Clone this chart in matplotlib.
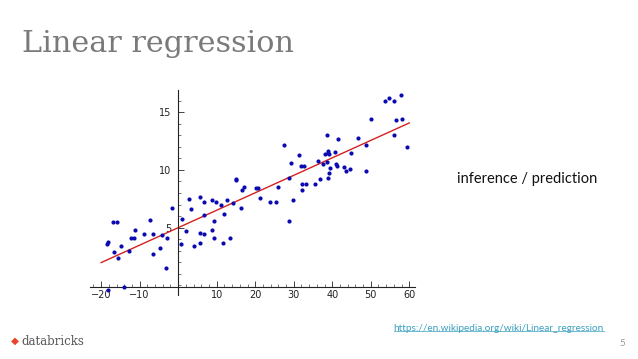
import matplotlib.pyplot as plt
import numpy as np

# scatter data
x_pts = [-18.6, -18.2, -17.0, -15.8, -16.7, -15.6, -14.9, -14.0, -18.2, -12.7,
         -12.2, -11.4, -11.1, -8.8, -7.3, -6.5, -6.5, -4.6, -4.3, -3.2,
         -2.8, -1.7, 0.7, 1.1, 2.1, 2.9, 3.3, 4.1, 5.7, 5.6,
         5.6, 6.7, 6.7, 6.7, 8.7, 8.9, 9.3, 9.4, 9.8, 11.2,
         11.7, 12.0, 12.7, 13.5, 14.3, 14.9, 15.1, 16.3, 16.6, 17.0,
         20.1, 20.8, 21.2, 23.9, 25.4, 26.0, 27.5, 28.8, 28.8, 29.3,
         29.8, 31.3, 31.8, 32.6, 32.1, 32.2, 33.2, 35.6, 36.2, 36.9,
         37.6, 38.2, 38.7, 38.8, 38.8, 39.0, 39.2, 39.2, 38.7, 39.4,
         40.8, 41.1, 41.3, 41.6, 43.0, 43.5, 44.5, 44.8, 46.6, 48.7,
         48.8, 50.0, 53.8, 54.6, 56.0, 56.0, 56.5, 57.9, 58.1, 59.4]
y_pts = [3.56, 3.79, 5.46, 5.46, 2.93, 2.41, 3.39, -0.1, -0.35, 2.99,
         4.08, 4.14, 4.77, 4.48, 5.69, 4.48, 2.76, 3.28, 4.34, 1.55,
         4.11, 6.67, 3.56, 5.72, 4.74, 7.44, 6.58, 3.39, 7.67, 4.54,
         3.65, 7.18, 6.06, 4.43, 4.83, 7.41, 5.57, 4.14, 7.24, 6.98,
         3.68, 6.15, 7.41, 4.14, 7.16, 9.22, 9.11, 6.67, 8.22, 8.56,
         8.39, 8.39, 7.59, 7.24, 7.21, 8.53, 12.13, 9.31, 5.57, 10.60,
         7.41, 11.26, 10.34, 10.37, 8.74, 8.25, 8.76, 8.82, 10.80, 9.20,
         10.55, 11.41, 13.05, 9.34, 11.49, 11.61, 11.38, 9.74, 10.66, 10.14,
         11.55, 10.52, 10.37, 12.64, 10.29, 9.94, 10.09, 11.49, 12.76, 12.18,
         9.91, 14.43, 16.0, 16.26, 16.0, 13.05, 14.28, 16.44, 14.43, 11.95]

# fitted line y = a + b*x
fit_intercept = 5.0
fit_slope = 0.151
fit_x = [-20, 60]

x_ticks = [-20, -10, 10, 20, 30, 40, 50, 60]
y_ticks = [5, 10, 15]

fig = plt.figure(figsize=(6.38, 3.59), dpi=100)
ax = fig.add_axes([0.141, 0.197 - 0.018, 0.509, 0.570])

ax.scatter(x_pts, y_pts, s=9, color="#0a0ab0", zorder=3, clip_on=False, linewidths=0)
fx = np.array(fit_x)
ax.plot(fx, fit_intercept + fit_slope * fx, color="#d42020", lw=1.0, zorder=2)

ax.set_xlim(-22.9, 61.4)
ax.set_ylim(-0.8, 16.9)
ax.spines["top"].set_visible(False)
ax.spines["right"].set_visible(False)
ax.spines["left"].set_position(("data", 0))
ax.spines["bottom"].set_position(("data", -0.17))
for s in ["left", "bottom"]:
    ax.spines[s].set_linewidth(0.8)
    ax.spines[s].set_color("#222222")

ax.set_xticks(x_ticks)
ax.set_yticks(y_ticks)
ax.set_xticks(np.arange(-22, 62, 2), minor=True)
ax.set_yticks(np.arange(0, 17, 1), minor=True)
ax.tick_params(which="major", direction="in", length=4, width=0.6,
               labelsize=7, colors="#222222", pad=2)
ax.tick_params(which="minor", direction="in", length=2, width=0.5, colors="#444444")
ax.tick_params(axis="y", pad=5)
ax.patch.set_alpha(0)

fig.text(0.034, 0.855, "Linear regression", fontsize=21.8, family="DejaVu Serif",
         color="#7a7a7a", va="baseline", ha="left")
fig.text(0.716, 0.501, "inference / prediction", fontsize=10.5, family="Lato",
         color="#111111", va="center", ha="left")
link = fig.text(0.617, 0.086, "https://en.wikipedia.org/wiki/Linear_regression",
                fontsize=7.2, family="Lato", color="#3aa0c0", va="center", ha="left")
fig.text(0.98, 0.042, "5", fontsize=7, family="Lato", color="#999999",
         va="center", ha="right")
fig.text(0.017, 0.05, "\u25c6", fontsize=7.5, color="#e8442a", va="center", ha="left")
fig.text(0.034, 0.05, "databricks", fontsize=8.5, family="DejaVu Serif",
         color="#555555", va="center", ha="left")

# underline the link under its own text
fig.canvas.draw()
bb = link.get_window_extent().transformed(fig.transFigure.inverted())
fig.add_artist(plt.Line2D([bb.x0, bb.x1], [bb.y0 + 0.004, bb.y0 + 0.004],
                          color="#3aa0c0", lw=0.5))

fig.savefig("out.png", dpi=100)
